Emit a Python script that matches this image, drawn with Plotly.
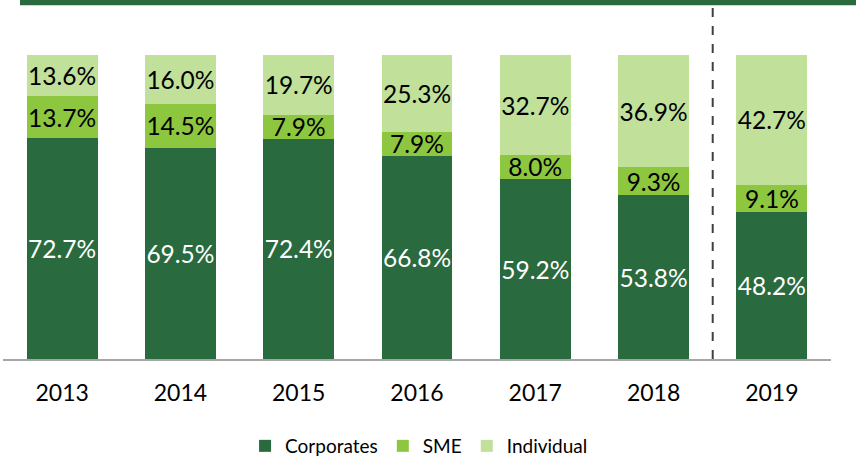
import plotly.graph_objects as go

years = ["2013", "2014", "2015", "2016", "2017", "2018", "2019"]
corporates = [72.7, 69.5, 72.4, 66.8, 59.2, 53.8, 48.2]
sme = [13.7, 14.5, 7.9, 7.9, 8.0, 9.3, 9.1]
individual = [13.6, 16.0, 19.7, 25.3, 32.7, 36.9, 42.7]

C_CORP = "#2A6A3F"
C_SME = "#8DC63F"
C_IND = "#C1E09A"
FONT = "Lato"

fig = go.Figure()
for name, vals, col, tcol in [
    ("Corporates", corporates, C_CORP, "white"),
    ("SME", sme, C_SME, "black"),
    ("Individual", individual, C_IND, "black"),
]:
    fig.add_trace(go.Bar(
        x=years, y=vals, name=name, marker=dict(color=col, line=dict(width=0)),
        text=[f"{v:.1f}%" for v in vals], textposition="inside",
        insidetextanchor="middle", textangle=0, constraintext="none",
        textfont=dict(color=tcol, size=24.5, family=FONT),
        width=0.6, hoverinfo="skip",
    ))

H = 304.0
fig.update_layout(
    barmode="stack",
    width=856, height=465,
    margin=dict(l=3, r=25, t=55, b=106),
    paper_bgcolor="white", plot_bgcolor="white",
    font=dict(family=FONT, color="black"),
    showlegend=True,
    legend=dict(orientation="h", x=0.5025, xanchor="center", yref="container", y=0,
                yanchor="bottom", traceorder="normal",
                font=dict(size=19, family=FONT, color="black"),
                itemwidth=30, tracegroupgap=0),
    xaxis=dict(showline=True, linecolor="#A6A6A6", linewidth=2, range=[-0.5, 6.5],
               ticks="outside", ticklen=12, tickcolor="rgba(0,0,0,0)",
               tickfont=dict(size=23, family=FONT, color="black"), showgrid=False),
    yaxis=dict(range=[0, 100], visible=False, showgrid=False),
    shapes=[
        dict(type="rect", xref="paper", yref="paper", x0=(20 - 3) / 828, x1=1.04,
             y0=(359 - 5.3) / H, y1=1.2, fillcolor=C_CORP, line=dict(width=0), layer="above"),
        dict(type="line", xref="x", yref="paper", x0=5.5, x1=5.5, y0=0,
             y1=(359 - 5.3) / H, line=dict(color="#404040", width=2, dash="dash")),
    ],
)

fig.write_html("out.html", config={"displayModeBar": False},
               post_script="document.body.style.margin='0';document.body.style.overflow='hidden';")
